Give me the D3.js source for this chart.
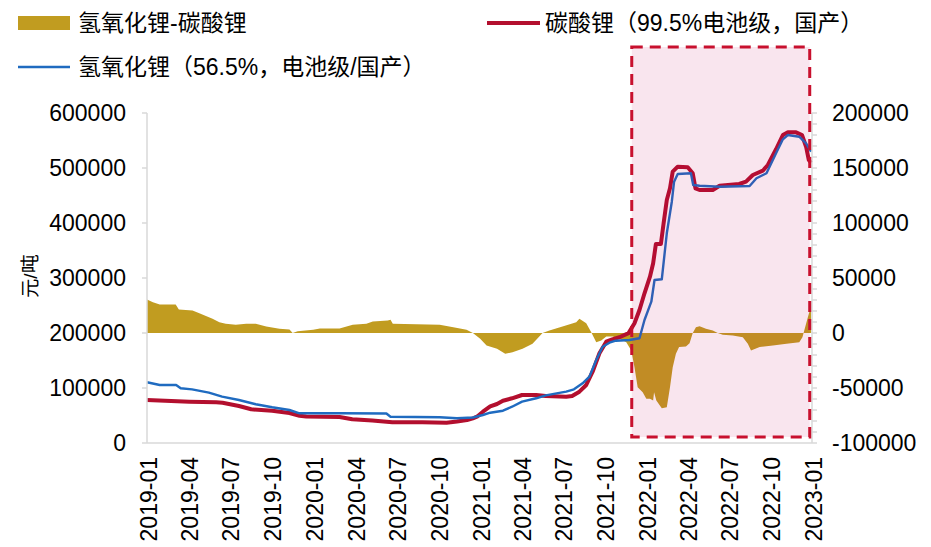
<!DOCTYPE html>
<html>
<head>
<meta charset="utf-8">
<script src="https://cdn.jsdelivr.net/npm/d3@7"></script>
<style>
  html, body { margin: 0; padding: 0; background: #ffffff; }
  svg { display: block; }
  text { font-family: "Liberation Sans", Arial, "Noto Sans CJK SC", sans-serif; fill: #000; }
</style>
</head>
<body>
<svg id="chart" width="931" height="547"></svg>
<script>
// 碳酸锂（99.5%电池级，国产），元/吨
const carbonateDates = ["2019-01-01","2019-04-04","2019-06-02","2019-06-16","2019-07-22","2019-08-18","2019-10-03","2019-11-10","2019-12-02","2019-12-17","2020-02-28","2020-03-27","2020-05-10","2020-06-23","2020-08-28","2020-10-20","2020-11-12","2020-12-04","2020-12-17","2020-12-26","2021-01-08","2021-01-24","2021-02-08","2021-02-21","2021-03-13","2021-04-04","2021-05-05","2021-05-26","2021-07-10","2021-07-23","2021-08-08","2021-08-23","2021-09-06","2021-09-21","2021-10-06","2021-10-19","2021-11-04","2021-11-24","2021-12-07","2021-12-18","2021-12-29","2022-01-10","2022-01-17","2022-01-23","2022-02-03","2022-02-09","2022-02-16","2022-02-23","2022-03-01","2022-03-12","2022-04-03","2022-04-14","2022-04-20","2022-04-29","2022-05-28","2022-06-12","2022-07-25","2022-08-09","2022-08-24","2022-09-15","2022-09-26","2022-10-14","2022-10-29","2022-11-09","2022-11-27","2022-12-10","2022-12-19","2022-12-25","2022-12-30"];
const carbonateValues = [78000,75000,74000,73300,67300,61300,58500,54500,49600,48200,47300,43100,40900,37600,37600,36900,39100,41800,44900,47800,56900,66400,70900,76900,81300,87300,87300,85500,84200,85500,93300,105500,129600,163100,184200,188500,192200,199800,217600,241800,272200,302400,326700,361800,361800,399500,441800,463100,493300,502400,501300,490400,463100,460000,460000,467800,470900,475100,487300,495100,505500,534000,560000,564900,564900,560000,538700,514500,509600];

// 氢氧化锂（56.5%，电池级/国产），元/吨
const hydroxideDates = ["2019-01-01","2019-01-29","2019-03-06","2019-03-16","2019-04-10","2019-05-17","2019-06-15","2019-07-22","2019-08-28","2019-10-03","2019-11-10","2019-12-02","2020-02-28","2020-06-10","2020-06-19","2020-10-05","2020-11-12","2020-12-17","2021-01-08","2021-01-24","2021-02-21","2021-03-13","2021-04-04","2021-05-05","2021-05-26","2021-07-10","2021-07-27","2021-08-15","2021-08-30","2021-09-14","2021-09-28","2021-10-13","2021-10-27","2021-11-26","2021-12-18","2021-12-29","2022-01-13","2022-01-20","2022-02-05","2022-02-16","2022-02-27","2022-03-04","2022-03-12","2022-04-10","2022-04-15","2022-04-29","2022-06-12","2022-08-17","2022-09-01","2022-09-23","2022-10-14","2022-10-29","2022-11-09","2022-12-04","2022-12-19","2022-12-30"];
const hydroxideValues = [110400,105500,105500,99500,97600,91500,84200,78200,70400,64900,60000,54000,54000,53600,47800,46700,44900,46400,50900,55100,58700,66000,75100,81300,86700,93300,97600,108500,120500,150900,175100,182400,186000,187300,190400,223600,256900,296400,297600,381300,438700,475100,489100,490400,469100,467800,466000,467300,481300,490400,526700,552200,560000,556900,544900,529600];

// 氢氧化锂-碳酸锂 价差，元/吨（右轴）
const spreadDates = ["2019-01-01","2019-01-14","2019-01-29","2019-03-05","2019-03-12","2019-04-11","2019-04-26","2019-05-25","2019-06-09","2019-06-23","2019-07-15","2019-08-07","2019-08-28","2019-09-20","2019-10-19","2019-11-10","2019-11-17","2019-11-28","2020-01-01","2020-01-16","2020-02-28","2020-03-28","2020-04-27","2020-05-11","2020-06-13","2020-06-19","2020-06-24","2020-10-05","2020-11-04","2020-12-03","2020-12-17","2021-01-02","2021-01-16","2021-02-08","2021-02-26","2021-03-14","2021-04-05","2021-04-27","2021-05-19","2021-06-03","2021-07-09","2021-08-01","2021-08-08","2021-08-23","2021-09-03","2021-09-14","2021-09-25","2021-10-06","2021-10-20","2021-11-04","2021-11-19","2021-11-30","2021-12-07","2021-12-14","2021-12-25","2022-01-02","2022-01-10","2022-01-17","2022-01-19","2022-01-24","2022-02-05","2022-02-16","2022-02-23","2022-03-01","2022-03-08","2022-03-15","2022-03-30","2022-04-07","2022-04-14","2022-04-21","2022-04-29","2022-05-13","2022-05-28","2022-06-08","2022-06-19","2022-07-11","2022-08-02","2022-08-13","2022-08-20","2022-09-08","2022-10-07","2022-11-06","2022-12-04","2022-12-11","2022-12-19","2022-12-26","2022-12-30"];
const spreadValues = [30500,28000,25900,25900,21400,20500,18000,12900,9800,8400,7400,8400,8400,5900,3800,3200,0,1600,2900,4100,4100,7500,8400,10500,11400,12000,8400,7500,5300,2900,0,-5300,-11400,-14400,-18900,-17500,-14400,-9800,0,2300,6800,9800,12900,8900,700,-8400,-6800,-3200,-3200,-5300,-8400,-15900,-31100,-49300,-53800,-59800,-59800,-61400,-53800,-61400,-68300,-67500,-49300,-31100,-18900,-12800,-12300,-9300,0,5300,6200,3800,2300,0,-1600,-2300,-3800,-9800,-15900,-12800,-11400,-9800,-8400,-3800,8400,18900,20500];

// Axis ticks
const xTickLabels = ["2019-01","2019-04","2019-07","2019-10","2020-01","2020-04","2020-07","2020-10","2021-01","2021-04","2021-07","2021-10","2022-01","2022-04","2022-07","2022-10","2023-01"];
const leftTicks = [0,100000,200000,300000,400000,500000,600000];
const rightTicks = [-100000,-50000,0,50000,100000,150000,200000];

// Highlighted period
const highlightRange = ["2021-12-01","2022-12-27"];

const parse = d3.timeParse("%Y-%m-%d");
const C = {
  gold: "#C19C20",
  red: "#B30F2E",
  blue: "#1F6BC0",
  axis: "#D9D9D9",
  box: "#C8102E"
};

const svg = d3.select("#chart");
const plot = { left: 147, right: 812, top: 113, bottom: 443 };

const x = d3.scaleTime()
  .domain([parse("2019-01-01"), parse("2023-01-01")])
  .range([plot.left, plot.right]);
const yL = d3.scaleLinear().domain([0, 600000]).range([plot.bottom, plot.top]);
const yR = d3.scaleLinear().domain([-100000, 200000]).range([plot.bottom, plot.top]);

const carbonate = carbonateDates.map((d, i) => ({ date: parse(d), value: carbonateValues[i] }));
const hydroxide = hydroxideDates.map((d, i) => ({ date: parse(d), value: hydroxideValues[i] }));
const spread = spreadDates.map((d, i) => ({ date: parse(d), value: spreadValues[i] }));

// Spread area on the right axis
svg.append("path")
  .datum(spread)
  .attr("fill", C.gold)
  .attr("d", d3.area()
    .x(d => x(d.date))
    .y0(yR(0))
    .y1(d => yR(d.value)));

// Price lines on the left axis
const lineL = d3.line().x(d => x(d.date)).y(d => yL(d.value));
svg.append("path").datum(carbonate)
  .attr("fill", "none").attr("stroke", C.red).attr("stroke-width", 4)
  .attr("stroke-linejoin", "round").attr("d", lineL);
svg.append("path").datum(hydroxide)
  .attr("fill", "none").attr("stroke", C.blue).attr("stroke-width", 2.4)
  .attr("stroke-linejoin", "round").attr("d", lineL);

// Axes
const axisG = svg.append("g");
axisG.append("line")
  .attr("x1", plot.left).attr("x2", plot.left)
  .attr("y1", plot.top).attr("y2", plot.bottom)
  .attr("stroke", C.axis).attr("stroke-width", 1.5);
axisG.append("line")
  .attr("x1", plot.right).attr("x2", plot.right)
  .attr("y1", plot.top).attr("y2", plot.bottom)
  .attr("stroke", C.axis).attr("stroke-width", 1.5);
axisG.append("line")
  .attr("x1", plot.left).attr("x2", plot.right)
  .attr("y1", plot.bottom).attr("y2", plot.bottom)
  .attr("stroke", C.axis).attr("stroke-width", 1.5);

// left ticks
leftTicks.forEach(v => {
  axisG.append("line")
    .attr("x1", plot.left - 5).attr("x2", plot.left)
    .attr("y1", yL(v)).attr("y2", yL(v))
    .attr("stroke", C.axis).attr("stroke-width", 1.5);
  axisG.append("text")
    .attr("x", plot.left - 21).attr("y", yL(v))
    .attr("dy", "0.35em")
    .attr("text-anchor", "end")
    .attr("font-size", 23)
    .text(v);
});

// right ticks (minor every 10000)
d3.range(-100000, 200001, 10000).forEach(v => {
  axisG.append("line")
    .attr("x1", plot.right).attr("x2", plot.right + 5)
    .attr("y1", yR(v)).attr("y2", yR(v))
    .attr("stroke", C.axis).attr("stroke-width", 1.5);
});
rightTicks.forEach(v => {
  axisG.append("text")
    .attr("x", plot.right + 20).attr("y", yR(v))
    .attr("dy", "0.35em")
    .attr("text-anchor", "start")
    .attr("font-size", 23)
    .text(v);
});

// x tick labels, rotated
xTickLabels.forEach(lbl => {
  const px = x(parse(lbl + "-01"));
  axisG.append("text")
    .attr("transform", `translate(${px + 2},${plot.bottom + 14}) rotate(-90)`)
    .attr("dy", "0.35em")
    .attr("text-anchor", "end")
    .attr("font-size", 23)
    .text(lbl);
});

// y-axis title
svg.append("text")
  .attr("transform", `translate(30,${(plot.top + plot.bottom) / 2 - 2}) rotate(-90)`)
  .attr("dy", "0.35em")
  .attr("text-anchor", "middle")
  .attr("font-size", 19)
  .text("元/吨");

// Highlight box
const hx0 = x(parse(highlightRange[0]));
const hx1 = x(parse(highlightRange[1]));
svg.append("rect")
  .attr("x", hx0).attr("y", 47)
  .attr("width", hx1 - hx0).attr("height", plot.bottom - 6 - 47)
  .attr("fill", "#C8005A").attr("fill-opacity", 0.1)
  .attr("stroke", C.box).attr("stroke-width", 3)
  .attr("stroke-dasharray", "11 7");

// Legend
const legend = svg.append("g");
legend.append("rect").attr("x", 18).attr("y", 16).attr("width", 52).attr("height", 14).attr("fill", C.gold);
legend.append("text").attr("x", 78).attr("y", 23).attr("dy", "0.35em").attr("font-size", 23).text("氢氧化锂-碳酸锂");
legend.append("line").attr("x1", 487).attr("x2", 540).attr("y1", 23).attr("y2", 23)
  .attr("stroke", C.red).attr("stroke-width", 4);
legend.append("text").attr("x", 545).attr("y", 23).attr("dy", "0.35em").attr("font-size", 23).text("碳酸锂（99.5%电池级，国产）");
legend.append("line").attr("x1", 18).attr("x2", 70).attr("y1", 67).attr("y2", 67)
  .attr("stroke", C.blue).attr("stroke-width", 2.4);
legend.append("text").attr("x", 78).attr("y", 67).attr("dy", "0.35em").attr("font-size", 23).text("氢氧化锂（56.5%，电池级/国产）");
</script>
</body>
</html>
